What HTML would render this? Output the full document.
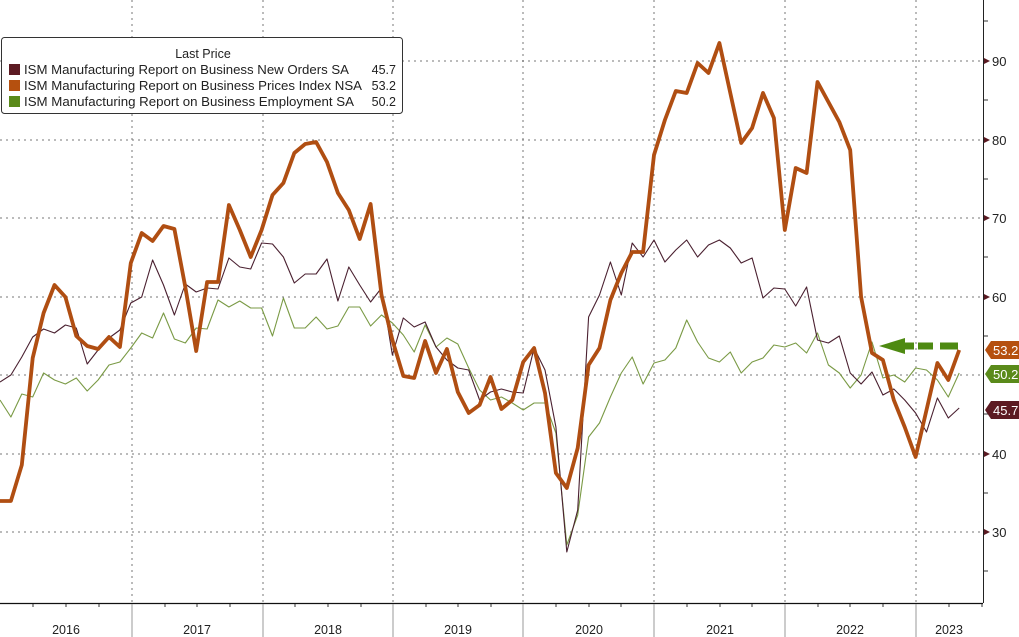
<!DOCTYPE html>
<html><head><meta charset="utf-8"><style>
html,body{margin:0;padding:0;background:#fff;}
svg{display:block;font-family:"Liberation Sans",sans-serif;}
</style></head><body>
<svg width="1019" height="637" viewBox="0 0 1019 637" xmlns="http://www.w3.org/2000/svg">
<rect width="1019" height="637" fill="#fff"/>
<g stroke="#777" stroke-width="1" stroke-dasharray="2,4">
<line x1="0" y1="61" x2="983" y2="61"/><line x1="0" y1="140" x2="983" y2="140"/>
<line x1="0" y1="218" x2="983" y2="218"/><line x1="0" y1="297" x2="983" y2="297"/>
<line x1="0" y1="375" x2="983" y2="375"/><line x1="0" y1="454" x2="983" y2="454"/>
<line x1="0" y1="532" x2="983" y2="532"/>
<line x1="132" y1="0" x2="132" y2="603"/><line x1="263" y1="0" x2="263" y2="603"/>
<line x1="393" y1="0" x2="393" y2="603"/><line x1="523" y1="0" x2="523" y2="603"/>
<line x1="654" y1="0" x2="654" y2="603"/><line x1="785" y1="0" x2="785" y2="603"/>
<line x1="916" y1="0" x2="916" y2="603"/>
</g>
<polyline fill="none" stroke="#7a9a45" stroke-width="1.1" stroke-linejoin="round" points="0,400 10.9,417 21.8,394 32.7,397 43.6,373 54.5,380 65.4,384 76.3,378 87.2,391 98.1,380 109,365 119.9,362 130.8,348 141.7,333 152.6,338 163.5,313 174.4,339 185.3,343 196.2,328 207.1,329 218,300 228.9,307 239.8,301 250.7,308 261.6,308 272.5,336 283.4,298 294.3,328 305.2,328 316.1,317 327,329 337.9,326 348.8,307 359.7,307 370.6,326 381.5,315 392.4,323 403.3,335 414.2,352 425.1,325 436,347 446.9,338 457.8,344 468.7,368 479.6,390 490.5,400 501.4,397 512.3,403 523.2,410 534.1,403 545,403 555.9,433 566.8,545 577.7,515 588.6,437 599.5,423 610.4,397 621.3,373 632.2,357 643.1,384 654,363 664.9,360 675.8,348 686.7,320 697.6,342 708.5,358 719.4,362 730.3,352 741.2,373 752.1,362 763,358 773.9,345 784.8,347 795.7,343 806.6,353 817.5,333 828.4,365 839.3,373 850.2,388 861.1,375 872,342 882.9,378 893.8,375 904.7,382 915.6,368 926.5,370 937.4,380 948.3,397 959.2,373"/>
<polyline fill="none" stroke="#4a2030" stroke-width="1.1" stroke-linejoin="round" points="0,382 10.9,375 21.8,357 32.7,337 43.6,329 54.5,333 65.4,325 76.3,328 87.2,364 98.1,350 109,338 119.9,330 130.8,303 141.7,297 152.6,260 163.5,285 174.4,315 185.3,284 196.2,292 207.1,288 218,289 228.9,258 239.8,267 250.7,269 261.6,243 272.5,244 283.4,257 294.3,283 305.2,274 316.1,274 327,259 337.9,301 348.8,267 359.7,285 370.6,302 381.5,288 392.4,355 403.3,318 414.2,327 425.1,322 436,347 446.9,360 457.8,368 468.7,370 479.6,400 490.5,392 501.4,389 512.3,392 523.2,393 534.1,348 545,370 555.9,427 566.8,552 577.7,510 588.6,317 599.5,295 610.4,262 621.3,295 632.2,243 643.1,257 654,240 664.9,262 675.8,250 686.7,240 697.6,257 708.5,245 719.4,240 730.3,248 741.2,263 752.1,258 763,298 773.9,288 784.8,289 795.7,306 806.6,287 817.5,340 828.4,343 839.3,336 850.2,373 861.1,384 872,372 882.9,395 893.8,389 904.7,400 915.6,413 926.5,432 937.4,398 948.3,418 959.2,408"/>
<polyline fill="none" stroke="#b04e12" stroke-width="3.8" stroke-linejoin="round" points="0,501 10.9,501 21.8,465 32.7,358 43.6,313 54.5,285 65.4,297 76.3,336 87.2,346 98.1,349 109,337 119.9,347 130.8,263 141.7,233 152.6,241 163.5,226 174.4,229 185.3,287 196.2,351 207.1,282 218,282 228.9,205 239.8,230 250.7,257 261.6,230 272.5,195 283.4,183 294.3,153 305.2,144 316.1,142 327,162 337.9,193 348.8,210 359.7,239 370.6,204 381.5,295 392.4,340 403.3,376 414.2,378 425.1,341 436,373 446.9,349 457.8,392 468.7,413 479.6,405 490.5,377 501.4,409 512.3,400 523.2,362 534.1,348 545,393 555.9,473 566.8,488 577.7,448 588.6,365 599.5,348 610.4,300 621.3,273 632.2,252 643.1,252 654,155 664.9,120 675.8,91 686.7,93 697.6,63 708.5,73 719.4,43 730.3,93 741.2,143 752.1,128 763,93 773.9,118 784.8,230 795.7,168 806.6,173 817.5,82 828.4,102 839.3,122 850.2,150 861.1,297 872,353 882.9,360 893.8,400 904.7,427 915.6,457 926.5,410 937.4,363 948.3,380 959.2,350"/>
<!-- green arrow -->
<g fill="#4e8a12">
<polygon points="879,346 905,338 905,354"/>
<rect x="904" y="342.5" width="10" height="7"/>
<rect x="918" y="342.5" width="15" height="7"/>
<rect x="940" y="342.5" width="18" height="7"/>
</g>
<!-- right axis -->
<line x1="983.5" y1="0" x2="983.5" y2="603" stroke="#222" stroke-width="1"/>
<g fill="#5a1a22">
<polygon points="984,58 990,61 984,64"/><polygon points="984,137 990,140 984,143"/>
<polygon points="984,215 990,218 984,221"/><polygon points="984,294 990,297 984,300"/>
<polygon points="984,451 990,454 984,457"/><polygon points="984,529 990,532 984,535"/>
</g>
<g stroke="#333"><line x1="984" y1="21" x2="988" y2="21"/><line x1="984" y1="100" x2="988" y2="100"/><line x1="984" y1="179" x2="988" y2="179"/><line x1="984" y1="257" x2="988" y2="257"/><line x1="984" y1="336" x2="988" y2="336"/><line x1="984" y1="414" x2="988" y2="414"/><line x1="984" y1="493" x2="988" y2="493"/><line x1="984" y1="571" x2="988" y2="571"/></g>
<g font-size="13" fill="#222">
<text x="992" y="66">90</text><text x="992" y="145">80</text><text x="992" y="223">70</text>
<text x="992" y="302">60</text><text x="992" y="459">40</text><text x="992" y="537">30</text>
</g>
<polygon points="985,350 991,341 1019,341 1019,359 991,359" fill="#b5500f"/>
<polygon points="985,374 991,365 1019,365 1019,383 991,383" fill="#5a8a1a"/>
<polygon points="985,410 991,401 1019,401 1019,419 991,419" fill="#5c1a22"/>
<g font-size="13" fill="#fff"><text x="993" y="355">53.2</text><text x="993" y="379">50.2</text><text x="993" y="415">45.7</text></g>
<!-- bottom axis -->
<line x1="0" y1="603.5" x2="983" y2="603.5" stroke="#111" stroke-width="1.2"/>
<g stroke="#999" stroke-width="1">
<line x1="132" y1="604" x2="132" y2="637"/><line x1="263" y1="604" x2="263" y2="637"/>
<line x1="393" y1="604" x2="393" y2="637"/><line x1="523" y1="604" x2="523" y2="637"/>
<line x1="654" y1="604" x2="654" y2="637"/><line x1="785" y1="604" x2="785" y2="637"/>
<line x1="916" y1="604" x2="916" y2="637"/>
</g>
<g stroke="#333" stroke-width="1">
<line x1="33" y1="604" x2="33" y2="607"/><line x1="66" y1="604" x2="66" y2="607"/><line x1="99" y1="604" x2="99" y2="607"/>
<line x1="165" y1="604" x2="165" y2="607"/><line x1="197" y1="604" x2="197" y2="607"/><line x1="230" y1="604" x2="230" y2="607"/>
<line x1="295" y1="604" x2="295" y2="607"/><line x1="328" y1="604" x2="328" y2="607"/><line x1="361" y1="604" x2="361" y2="607"/>
<line x1="426" y1="604" x2="426" y2="607"/><line x1="458" y1="604" x2="458" y2="607"/><line x1="491" y1="604" x2="491" y2="607"/>
<line x1="556" y1="604" x2="556" y2="607"/><line x1="589" y1="604" x2="589" y2="607"/><line x1="621" y1="604" x2="621" y2="607"/>
<line x1="687" y1="604" x2="687" y2="607"/><line x1="720" y1="604" x2="720" y2="607"/><line x1="752" y1="604" x2="752" y2="607"/>
<line x1="818" y1="604" x2="818" y2="607"/><line x1="850" y1="604" x2="850" y2="607"/><line x1="883" y1="604" x2="883" y2="607"/>
<line x1="949" y1="604" x2="949" y2="607"/><line x1="982" y1="604" x2="982" y2="607"/>
</g>
<g font-size="12.5" fill="#222" text-anchor="middle">
<text x="66" y="634">2016</text><text x="197" y="634">2017</text><text x="328" y="634">2018</text>
<text x="458" y="634">2019</text><text x="589" y="634">2020</text><text x="720" y="634">2021</text>
<text x="850" y="634">2022</text><text x="949" y="634">2023</text>
</g>
<!-- legend -->
<rect x="1.5" y="37.5" width="401" height="76" rx="3" fill="#fff" stroke="#333" stroke-width="1"/>
<text x="203" y="58" font-size="12.5" fill="#222" text-anchor="middle">Last Price</text>
<rect x="9" y="64" width="11" height="11" fill="#5c1a22"/>
<rect x="9" y="80" width="11" height="11" fill="#b5500f"/>
<rect x="9" y="96" width="11" height="11" fill="#5a8a1a"/>
<g font-size="12.5" fill="#222">
<text x="24" y="74" textLength="325" lengthAdjust="spacingAndGlyphs">ISM Manufacturing Report on Business New Orders SA</text>
<text x="24" y="90" textLength="338" lengthAdjust="spacingAndGlyphs">ISM Manufacturing Report on Business Prices Index NSA</text>
<text x="24" y="106" textLength="330" lengthAdjust="spacingAndGlyphs">ISM Manufacturing Report on Business Employment SA</text>
<text x="396" y="74" text-anchor="end">45.7</text>
<text x="396" y="90" text-anchor="end">53.2</text>
<text x="396" y="106" text-anchor="end">50.2</text>
</g>
</svg>
</body></html>
